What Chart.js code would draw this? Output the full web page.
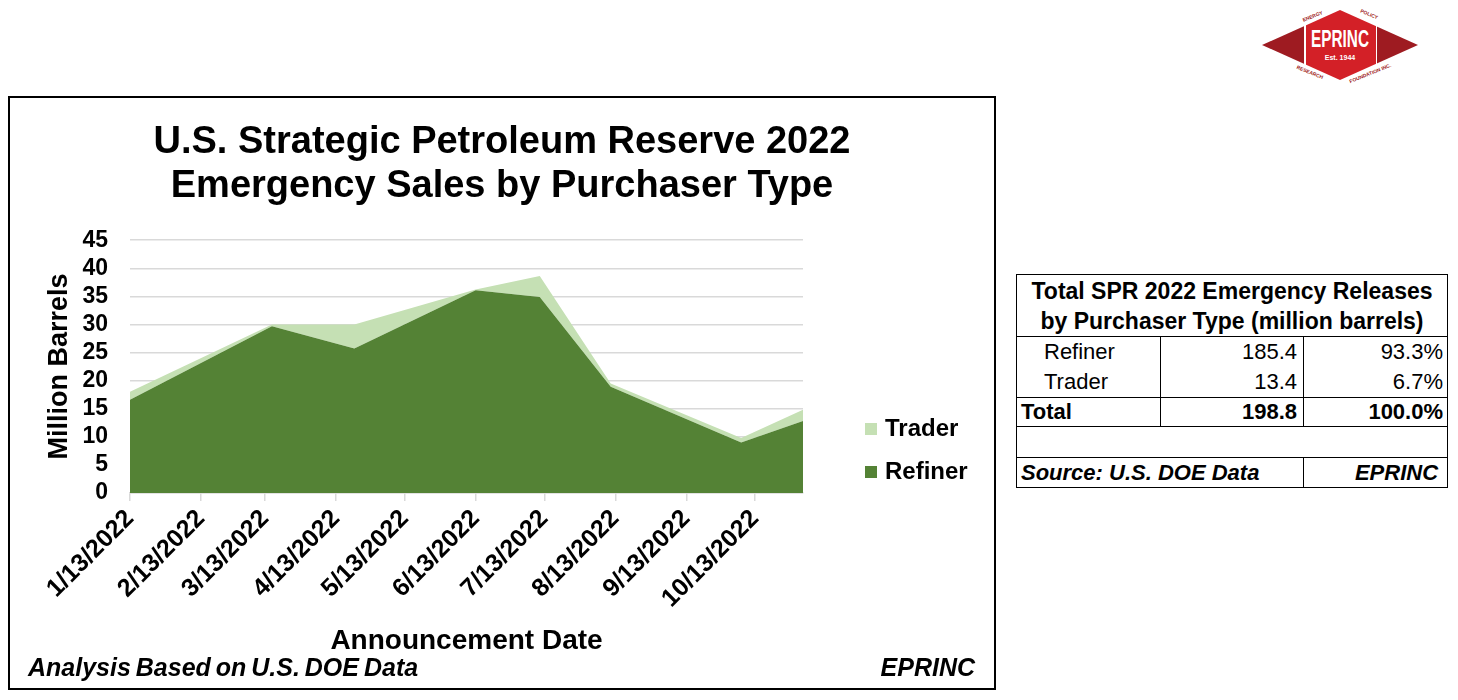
<!DOCTYPE html>
<html>
<head>
<meta charset="utf-8">
<script src="https://cdn.jsdelivr.net/npm/chart.js@4.4.1/dist/chart.umd.min.js"></script>
<style>
  html, body { margin: 0; padding: 0; background: #fff; }
  body { width: 1458px; height: 700px; position: relative; overflow: hidden;
         font-family: 'Liberation Sans', Arial, sans-serif; color: #000; }
  #box { position: absolute; left: 8px; top: 96px; width: 988px; height: 594px;
         border: 2px solid #000; box-sizing: border-box; }
  #box canvas { position: absolute; left: 0; top: 0; }
  #legend { position: absolute; left: 855px; top: 318px; }
  .lg-item { height: 43px; line-height: 24px; font-size: 24px; font-weight: bold; white-space: nowrap; }
  .lg-item i { display: inline-block; width: 12px; height: 12px; margin-right: 8px; vertical-align: 1px; }
  .foot { position: absolute; top: 555px; font-size: 25px; font-weight: bold; font-style: italic; line-height: 28px; }
  #summary { position: absolute; left: 1016px; top: 274px; width: 431px; border-collapse: collapse;
             table-layout: fixed; border: 1px solid #000; font-size: 22px; }
  #summary td, #summary th { padding: 0; white-space: nowrap; }
  #summary th { height: 61px; line-height: 30px; font-size: 23px; font-weight: bold; text-align: center; border-bottom: 1px solid #000; }
  #summary td.c1 { padding-left: 27px; }
  #summary td.c2, #summary td.c3 { text-align: right; border-left: 1px solid #000; }
  #summary td.c2 { padding-right: 6px; }
  #summary td.c3 { padding-right: 4px; }
  #summary tr.row td { height: 30px; }
  #summary tr.total td { height: 28px; font-weight: bold; border-top: 1px solid #000; border-bottom: 1px solid #000; }
  #summary tr.total td.c1 { padding-left: 4px; }
  #summary tr.blank td { height: 30px; border-bottom: 1px solid #000; }
  #summary tr.src td { height: 29px; font-weight: bold; font-style: italic; }
  #logo { position: absolute; left: 1262px; top: 10px; width: 156px; height: 70px; }
  #logo .dia { position: absolute; inset: 0; clip-path: polygon(0 50%, 50% 0, 100% 50%, 50% 100%);
               background: linear-gradient(to right, #9e1b21 0 27%, #fff 27% 28%, #d32027 28% 73%, #fff 73% 74%, #9e1b21 74%); }
  #logo .name { position: absolute; left: 0; width: 156px; top: 17px; text-align: center; color: #fff;
                font-size: 24px; font-weight: bold; transform: scaleX(0.64); line-height: 24px; }
  #logo .est { position: absolute; left: 0; width: 156px; top: 44px; text-align: center; color: #fff;
               font-size: 7px; font-weight: bold; }
  #logo .tag { position: absolute; color: #9e1b21; font-size: 5px; font-weight: bold; white-space: nowrap; }
</style>
</head>
<body>

<div id="logo">
  <div class="dia"></div>
  <div class="name">EPRINC</div>
  <div class="est">Est. 1944</div>
  <span class="tag" style="left:40px; top:3px; transform: rotate(-22deg);">ENERGY</span>
  <span class="tag" style="left:98px; top:1px; transform: rotate(22deg);">POLICY</span>
  <span class="tag" style="left:34px; top:59px; transform: rotate(22deg);">RESEARCH</span>
  <span class="tag" style="left:86px; top:60px; transform: rotate(-22deg);">FOUNDATION INC.</span>
</div>

<div id="box">
  <canvas id="sprChart" width="984" height="590"></canvas>
  <div id="legend"></div>
  <div class="foot" style="left:18px; word-spacing:-2px;">Analysis Based on U.S. DOE Data</div>
  <div class="foot" style="right:19px;">EPRINC</div>
</div>

<table id="summary"></table>

<script>
// announcement dates and volumes (million barrels)
const saleDates = ['2022-01-13', '2022-03-16', '2022-04-21', '2022-06-13',
                   '2022-07-11', '2022-08-11', '2022-10-07', '2022-11-03'];
const refinerMb = [16.6, 29.7, 25.7, 36.1, 34.9, 18.9, 9.0, 12.8];
const traderMb  = [1.4, 0.3, 4.3, 0.1, 3.7, 0.6, 0.8, 2.0];

// x axis ticks
const tickDates  = ['2022-01-13', '2022-02-13', '2022-03-13', '2022-04-13', '2022-05-13',
                    '2022-06-13', '2022-07-13', '2022-08-13', '2022-09-13', '2022-10-13'];
const tickLabels = ['1/13/2022', '2/13/2022', '3/13/2022', '4/13/2022', '5/13/2022',
                    '6/13/2022', '7/13/2022', '8/13/2022', '9/13/2022', '10/13/2022'];

// summary table
const tableNames   = ['Refiner', 'Trader', 'Total'];
const tableVolumes = ['185.4', '13.4', '198.8'];
const tableShares  = ['93.3%', '6.7%', '100.0%'];

const dayOf = d => (Date.parse(d) - Date.parse(saleDates[0])) / 864e5;
const points = vals => vals.map((v, i) => ({ x: dayOf(saleDates[i]), y: v }));

Chart.defaults.font.family = "'Liberation Sans', Arial, sans-serif";
Chart.defaults.color = '#000';

const chart = new Chart(document.getElementById('sprChart'), {
  type: 'line',
  data: {
    datasets: [{
      label: 'Refiner',
      data: points(refinerMb),
      backgroundColor: '#548235',
      fill: 'origin'
    }, {
      label: 'Trader',
      data: points(traderMb),
      backgroundColor: '#c5e0b4',
      fill: '-1'
    }]
  },
  options: {
    responsive: false,
    animation: false,
    elements: {
      line: { borderWidth: 0, tension: 0 },
      point: { radius: 0 }
    },
    plugins: {
      legend: { display: false },
      tooltip: { enabled: false },
      title: {
        display: true,
        text: ['U.S. Strategic Petroleum Reserve 2022', 'Emergency Sales by Purchaser Type'],
        font: { size: 38, weight: 'bold', lineHeight: 1.16 },
        padding: { top: 22, bottom: 32 }
      }
    },
    scales: {
      x: {
        type: 'linear',
        min: 0,
        max: dayOf(saleDates[saleDates.length - 1]),
        afterBuildTicks: s => { s.ticks = tickDates.map(d => ({ value: dayOf(d) })); },
        afterFit: s => { s.height = 195; },
        ticks: {
          autoSkip: false, minRotation: 45, maxRotation: 45,
          font: { size: 25, weight: 'bold' },
          callback: (v, i) => tickLabels[i]
        },
        grid: { drawOnChartArea: false, tickLength: 8, color: '#d9d9d9', lineWidth: 1.5 },
        border: { color: '#d9d9d9', width: 1.5 },
        title: {
          display: true, text: 'Announcement Date',
          font: { size: 28, weight: 'bold' }, padding: { top: 0, bottom: 30 }
        }
      },
      y: {
        stacked: true,
        min: 0,
        max: 45,
        afterFit: s => { s.width = 120; },
        ticks: { stepSize: 5, autoSkip: false, padding: 22, font: { size: 23, weight: 'bold' } },
        grid: { color: '#d9d9d9', lineWidth: 1.5, drawTicks: false },
        border: { display: false },
        title: {
          display: true, text: 'Million Barrels',
          font: { size: 27, weight: 'bold' }, padding: { top: 33, bottom: 0 }
        }
      },
      // empty axis that keeps room for the legend on the right
      legendSpace: {
        position: 'right',
        grid: { display: false },
        ticks: { display: false },
        border: { display: false },
        afterFit: s => { s.width = 191; }
      }
    }
  }
});

// legend, Trader on top like the original
const legendEl = document.getElementById('legend');
chart.data.datasets.slice().reverse().forEach(ds => {
  const item = document.createElement('div');
  item.className = 'lg-item';
  item.innerHTML = '<i style="background:' + ds.backgroundColor + '"></i>' + ds.label;
  legendEl.appendChild(item);
});

// table
const table = document.getElementById('summary');
let html = '<colgroup><col style="width:144px"><col style="width:143px"><col style="width:144px"></colgroup>' +
  '<tr><th colspan="3">Total SPR 2022 Emergency Releases<br>by Purchaser Type (million barrels)</th></tr>';
tableNames.forEach((name, i) => {
  const cls = name === 'Total' ? 'total' : 'row';
  html += '<tr class="' + cls + '"><td class="c1">' + name + '</td><td class="c2">' + tableVolumes[i] +
          '</td><td class="c3">' + tableShares[i] + '</td></tr>';
});
html += '<tr class="blank"><td colspan="3"></td></tr>';
html += '<tr class="src"><td colspan="2" style="padding-left:4px">Source: U.S. DOE Data</td>' +
        '<td style="text-align:right; padding-right:9px; border-left:1px solid #000">EPRINC</td></tr>';
table.innerHTML = html;
</script>
</body>
</html>
